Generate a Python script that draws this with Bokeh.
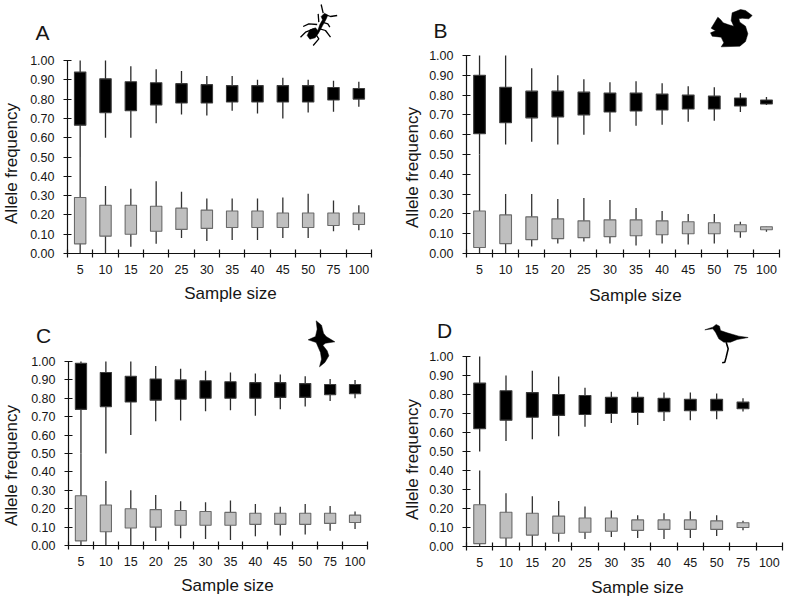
import math
from bokeh.embed import file_html
from bokeh.resources import INLINE
from bokeh.layouts import column, row
from bokeh.models import ColumnDataSource, Range1d, LinearAxis, FixedTicker, Label, NumeralTickFormatter
from bokeh.plotting import figure

sizes = ["5", "10", "15", "20", "25", "30", "35", "40", "45", "50", "75", "100"]
y_ticks = [0.0, 0.1, 0.2, 0.3, 0.4, 0.5, 0.6, 0.7, 0.8, 0.9, 1.0]

A_major_lo = [.50, .60, .60, .675, .72, .715, .74, .725, .70, .73, .735, .76]
A_major_q1 = [.665, .73, .74, .77, .78, .78, .785, .785, .785, .785, .795, .80]
A_major_q3 = [.94, .905, .89, .885, .88, .875, .87, .87, .87, .87, .86, .855]
A_major_hi = [1.0, 1.0, .97, .955, .945, .92, .92, .90, .91, .90, .895, .89]
A_minor_lo = [0, 0, .035, .05, .08, .065, .07, .07, .08, .08, .115, .12]
A_minor_q1 = [.05, .09, .10, .115, .125, .13, .135, .135, .135, .135, .145, .15]
A_minor_q3 = [.29, .25, .25, .245, .235, .225, .22, .22, .21, .21, .21, .21]
A_minor_hi = [.50, .35, .335, .375, .32, .285, .285, .285, .29, .31, .275, .25]

B_major_lo = [.50, .55, .565, .55, .60, .615, .645, .65, .665, .67, .715, .75]
B_major_q1 = [.605, .66, .685, .69, .70, .715, .72, .725, .73, .73, .745, .755]
B_major_q3 = [.90, .84, .82, .82, .815, .81, .81, .805, .80, .795, .785, .775]
B_major_hi = [1.0, 1.0, .935, .90, .88, .865, .87, .86, .845, .84, .81, .79]
B_minor_lo = [0, 0, .035, .05, .06, .05, .04, .05, .045, .05, .08, .11]
B_minor_q1 = [.03, .05, .07, .075, .08, .085, .09, .095, .10, .10, .11, .12]
B_minor_q3 = [.215, .195, .185, .175, .165, .17, .17, .165, .16, .155, .145, .135]
B_minor_hi = [.50, .30, .30, .275, .28, .27, .23, .215, .20, .20, .16, .135]

C_major_lo = [.50, .50, .60, .675, .68, .73, .735, .705, .74, .755, .785, .80]
C_major_q1 = [.74, .755, .78, .79, .795, .80, .80, .80, .805, .805, .82, .825]
C_major_q3 = [.99, .94, .92, .905, .90, .895, .89, .885, .885, .88, .875, .875]
C_major_hi = [1.0, 1.0, 1.0, .975, .96, .95, .94, .935, .93, .92, .905, .90]
C_minor_lo = [0, 0, 0, .025, .04, .035, .03, .05, .055, .06, .08, .09]
C_minor_q1 = [.025, .075, .095, .10, .11, .11, .11, .115, .115, .115, .12, .125]
C_minor_q3 = [.27, .22, .20, .195, .19, .185, .18, .175, .175, .175, .175, .165]
C_minor_hi = [.50, .35, .30, .275, .24, .235, .245, .225, .21, .225, .215, .185]

D_major_lo = [.50, .555, .565, .58, .63, .65, .64, .66, .665, .67, .71]
D_major_q1 = [.62, .665, .68, .69, .695, .70, .705, .71, .715, .715, .725]
D_major_q3 = [.86, .82, .81, .80, .795, .785, .785, .78, .775, .775, .76]
D_major_hi = [1.0, .90, .925, .895, .835, .815, .815, .81, .81, .805, .78]
D_minor_lo = [0, 0, 0, .025, .04, .05, .045, .04, .045, .055, .085]
D_minor_q1 = [.015, .045, .06, .07, .075, .08, .085, .09, .09, .09, .10]
D_minor_q3 = [.22, .18, .175, .16, .15, .15, .14, .14, .14, .135, .125]
D_minor_hi = [.40, .28, .265, .24, .21, .19, .165, .175, .185, .165, .135]

FONT = "Liberation Sans"
INK = "#161616"
ROW_SPLIT = 304
COL_SPLIT = 393
PAGE_W = 786
PAGE_B = 599


def zoomed(ox, oy, pts):
    return [ox + p[0] / 3 for p in pts], [oy + p[1] / 3 for p in pts]


def panel(letter, major, minor, box, letter_at, ylab_at, xlab_at, cell):
    left, right, top, bottom = box
    cl, ct, cr, cb = cell
    sx = 12 / (right - left)
    sy = 1 / (bottom - top)
    p = figure(width=cr - cl, height=cb - ct, output_backend="svg", toolbar_location=None,
               x_axis_type=None, y_axis_type=None,
               x_range=Range1d((cl - left) * sx, (cr - left) * sx),
               y_range=Range1d((bottom - cb) * sy, (bottom - ct) * sy),
               min_border_left=0, min_border_right=0, min_border_top=0, min_border_bottom=0)
    p.outline_line_color = None
    p.background_fill_color = "white"
    p.extra_x_ranges["px"] = Range1d(cl, cr)
    p.extra_y_ranges["px"] = Range1d(cb, ct)

    for data, fill, edge, whisk in ((major, "#000000", "#3c3c3c", "#2a2a2a"),
                                    (minor, "#bfbfbf", "#6a6a6a", "#333333")):
        lo, q1, q3, hi = data
        src = ColumnDataSource(dict(x=[i + 0.5 for i in range(len(lo))], lo=lo, q1=q1, q3=q3, hi=hi))
        p.segment(x0="x", x1="x", y0="lo", y1="hi", source=src, line_color=whisk, line_width=1.3)
        p.vbar(x="x", width=0.45, bottom="q1", top="q3", source=src,
               fill_color=fill, line_color=edge, line_width=1.1)

    xa = LinearAxis(ticker=FixedTicker(ticks=[i + 0.5 for i in range(12)], minor_ticks=list(range(13))),
                    major_label_overrides={i + 0.5: sizes[i] for i in range(12)},
                    fixed_location=0, bounds=(0, 12))
    xa.major_tick_line_color = None
    xa.major_tick_in = 0
    xa.major_tick_out = 0
    xa.minor_tick_in = 4
    xa.minor_tick_out = 4
    xa.minor_tick_line_color = "#111111"
    xa.minor_tick_line_width = 1.2
    xa.axis_line_color = "#111111"
    xa.axis_line_width = 1.2
    xa.major_label_standoff = 7
    xa.major_label_text_font = FONT
    xa.major_label_text_font_size = "12.5px"
    xa.major_label_text_color = INK
    p.add_layout(xa, "below")

    ya = LinearAxis(ticker=FixedTicker(ticks=y_ticks), bounds=(0, 1), fixed_location=0,
                    formatter=NumeralTickFormatter(format="0.00"))
    ya.major_tick_in = 4
    ya.major_tick_out = 4
    ya.major_tick_line_color = "#111111"
    ya.major_tick_line_width = 1.2
    ya.minor_tick_line_color = None
    ya.axis_line_color = "#111111"
    ya.axis_line_width = 1.2
    ya.major_label_standoff = 9
    ya.major_label_text_font = FONT
    ya.major_label_text_font_size = "12.5px"
    ya.major_label_text_color = INK
    p.add_layout(ya, "left")

    def put(text, at, size, angle=0.0):
        p.add_layout(Label(x=at[0] - cl, y=cb - at[1], x_units="screen", y_units="screen",
                           text=text, text_font=FONT, text_font_size=size, text_color=INK,
                           text_align="center", text_baseline="middle", angle=angle))

    put(letter, letter_at, "21px")
    put("Allele frequency", ylab_at, "17px", math.pi / 2)
    put("Sample size", xlab_at, "17px")
    return p


def blob(p, ox, oy, pts):
    xs, ys = zoomed(ox, oy, pts)
    p.patch(xs, ys, x_range_name="px", y_range_name="px", fill_color="black", line_color="black", line_width=0.5)


def limb(p, ox, oy, pts, w=1.3):
    xs, ys = zoomed(ox, oy, pts)
    p.line(xs, ys, x_range_name="px", y_range_name="px", line_color="black", line_width=w)


pA = panel("A", (A_major_lo, A_major_q1, A_major_q3, A_major_hi),
           (A_minor_lo, A_minor_q1, A_minor_q3, A_minor_hi),
           (67, 371, 60, 253), (42, 32), (11, 163), (230, 293), (0, 0, COL_SPLIT, ROW_SPLIT))
pB = panel("B", (B_major_lo, B_major_q1, B_major_q3, B_major_hi),
           (B_minor_lo, B_minor_q1, B_minor_q3, B_minor_hi),
           (466, 779, 55, 253), (440, 30), (412, 167), (635, 295), (COL_SPLIT, 0, PAGE_W, ROW_SPLIT))
pC = panel("C", (C_major_lo, C_major_q1, C_major_q3, C_major_hi),
           (C_minor_lo, C_minor_q1, C_minor_q3, C_minor_hi),
           (68, 367, 361, 545), (43, 335), (11, 465), (227, 585), (0, ROW_SPLIT, COL_SPLIT, PAGE_B))
pD = panel("D", (D_major_lo, D_major_q1, D_major_q3, D_major_hi),
           (D_minor_lo, D_minor_q1, D_minor_q3, D_minor_hi),
           (466, 782, 356, 546), (444, 330), (412, 459), (637, 587), (COL_SPLIT, ROW_SPLIT, PAGE_W, PAGE_B))

# ant
blob(pA, 290, 0, [(50, 105), (58, 88), (75, 82), (82, 90), (88, 72), (96, 58), (92, 48), (102, 38), (112, 44),
                  (106, 58), (96, 76), (84, 98), (74, 112), (58, 116)])
for leg in ([(80, 72), (55, 70), (38, 78)], [(70, 85), (45, 95), (30, 110)], [(75, 100), (85, 115), (68, 135)],
            [(88, 85), (105, 90), (120, 110)], [(95, 65), (112, 70), (118, 80)], [(85, 65), (83, 40)],
            [(98, 38), (92, 12)], [(104, 42), (120, 48), (140, 45)]):
    limb(pA, 290, 0, leg)
# squirrel
blob(pB, 700, 5, [(32, 68), (42, 52), (52, 35), (60, 42), (68, 52), (85, 58), (100, 62), (92, 45), (95, 22), (120, 12),
                  (135, 15), (155, 30), (145, 40), (125, 38), (115, 40), (118, 50), (135, 62), (142, 85), (135, 108),
                  (118, 122), (62, 124), (70, 112), (62, 95), (35, 92), (30, 82), (45, 76)])
# albatross
blob(pC, 295, 312, [(62, 25), (78, 38), (84, 62), (92, 72), (118, 88), (90, 92), (82, 98), (95, 115), (100, 130),
                    (88, 150), (72, 163), (78, 140), (75, 120), (62, 90), (38, 82), (60, 72), (65, 50)])
# stilt
blob(pD, 695, 315, [(28, 43), (52, 35), (62, 27), (72, 32), (75, 45), (95, 52), (130, 62), (158, 66), (125, 72),
                    (105, 80), (85, 80), (70, 70), (60, 50), (52, 40)])
limb(pD, 695, 315, [(92, 80), (98, 100), (92, 125), (88, 140), (80, 142)], 1.6)

page = column(row(pA, pB), row(pC, pD))
open("out.html", "w").write(file_html(page, INLINE))
